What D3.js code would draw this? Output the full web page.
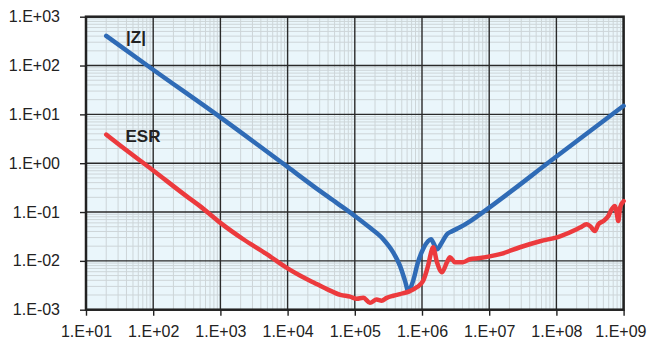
<!DOCTYPE html>
<html>
<head>
<meta charset="utf-8">
<script src="https://cdn.jsdelivr.net/npm/d3@7"></script>
<style>
  html, body { margin: 0; padding: 0; background: #ffffff; }
  svg { display: block; }
  text { font-family: "Liberation Sans", Arial, Helvetica, sans-serif; }
</style>
</head>
<body>
<svg id="chart" width="647" height="350"></svg>
<script>
// ---- Data ----
const xTickValues = [1e1, 1e2, 1e3, 1e4, 1e5, 1e6, 1e7, 1e8, 1e9];
const xTickLabels = ["1.E+01", "1.E+02", "1.E+03", "1.E+04", "1.E+05", "1.E+06", "1.E+07", "1.E+08", "1.E+09"];
const yTickValues = [1e3, 1e2, 1e1, 1e0, 1e-1, 1e-2, 1e-3];
const yTickLabels = ["1.E+03", "1.E+02", "1.E+01", "1.E+00", "1.E-01", "1.E-02", "1.E-03"];

// |Z| series: frequency (Hz), impedance (ohm)
const zFreq = [20, 100, 1000, 10000, 24400, 53700, 100000, 167000, 265000, 374000, 471000, 559000,
  625000, 735000, 872000, 1035000, 1228000, 1361000, 1510000, 1672000, 1985000, 2356000, 2795000,
  3675000, 5176000, 7295000, 1e8, 1e9];
const zVal = [404, 82, 8.7, 0.84, 0.336, 0.154, 0.083, 0.048, 0.0278, 0.0148, 0.0079, 0.0039,
  0.0024, 0.00385, 0.0094, 0.0173, 0.0252, 0.0277, 0.0219, 0.0173, 0.0241, 0.0351, 0.0404,
  0.0488, 0.0646, 0.0897, 1.37, 15];

// ESR series: frequency (Hz), ESR (ohm)
const esrFreq = [20, 31.6, 100, 316, 497, 1000, 2190, 4890, 10000, 15500, 24400, 38500, 61100,
  85000, 107000, 134000, 168000, 211000, 251000, 299000, 374000, 471000, 662000, 843000, 1035000,
  1227000, 1409000, 1459000, 1671000, 1986000, 2355000, 2612000, 3097000, 4074000, 5176000,
  7295000, 14490000, 28710000, 57020000, 113200000, 200500000, 224400000, 281800000, 316200000,
  375000000, 420700000, 500000000, 593000000, 665000000, 745000000, 788000000, 835000000,
  885000000, 1e9];
const esrVal = [3.86, 2.35, 0.71, 0.209, 0.132, 0.060, 0.0277, 0.0137, 0.0070, 0.00494, 0.00361,
  0.00264, 0.00202, 0.00185, 0.00168, 0.00176, 0.00138, 0.00162, 0.00153, 0.00175, 0.00193,
  0.00209, 0.0024, 0.0029, 0.00385, 0.0078, 0.0173, 0.019, 0.0094, 0.00587, 0.0094, 0.0119,
  0.0094, 0.0094, 0.0108, 0.0114, 0.0137, 0.019, 0.0252, 0.0319, 0.0444, 0.048, 0.056, 0.0518,
  0.041, 0.056, 0.0655, 0.0828, 0.1135, 0.1325, 0.097, 0.0655, 0.123, 0.1675];

// ---- Layout ----
const W = 647, H = 350;
const margin = { left: 86, right: 23.4, top: 16.7, bottom: 40.3 };
const pw = W - margin.left - margin.right;
const ph = H - margin.top - margin.bottom;

const svg = d3.select("#chart");
const g = svg.append("g").attr("transform", `translate(${margin.left},${margin.top})`);

const x = d3.scaleLog().domain([1e1, 1e9]).range([0, pw]);
const y = d3.scaleLog().domain([1e-3, 1e3]).range([ph, 0]);

// background
g.append("rect").attr("x", 0).attr("y", 0).attr("width", pw).attr("height", ph).attr("fill", "#eaf6fb");

// minor grid
const minorX = [], minorY = [];
for (let e = 1; e < 9; e++) for (let m = 2; m <= 9; m++) minorX.push(m * Math.pow(10, e));
for (let e = -3; e < 3; e++) for (let m = 2; m <= 9; m++) minorY.push(m * Math.pow(10, e));

g.append("g").selectAll("line").data(minorX).join("line")
  .attr("x1", d => x(d)).attr("x2", d => x(d)).attr("y1", 0).attr("y2", ph)
  .attr("stroke", "#cdd5d8").attr("stroke-width", 1);
g.append("g").selectAll("line").data(minorY).join("line")
  .attr("y1", d => y(d)).attr("y2", d => y(d)).attr("x1", 0).attr("x2", pw)
  .attr("stroke", "#cdd5d8").attr("stroke-width", 1);

// major grid
g.append("g").selectAll("line").data(xTickValues).join("line")
  .attr("x1", d => x(d)).attr("x2", d => x(d)).attr("y1", 0).attr("y2", ph)
  .attr("stroke", "#2a2a2a").attr("stroke-width", 1.4);
g.append("g").selectAll("line").data(yTickValues).join("line")
  .attr("y1", d => y(d)).attr("y2", d => y(d)).attr("x1", 0).attr("x2", pw)
  .attr("stroke", "#2a2a2a").attr("stroke-width", 1.4);

// axes
const xAxis = d3.axisBottom(x).tickValues(xTickValues)
  .tickFormat((d, i) => xTickLabels[i]).tickSizeInner(6).tickSizeOuter(0).tickPadding(10);
const yAxis = d3.axisLeft(y).tickValues(yTickValues)
  .tickFormat((d, i) => yTickLabels[i]).tickSizeInner(6).tickSizeOuter(0).tickPadding(20);

const gx = g.append("g").attr("transform", `translate(0,${ph})`).call(xAxis);
const gy = g.append("g").call(yAxis);
[gx, gy].forEach(a => {
  a.select(".domain").remove();
  a.selectAll(".tick line").attr("stroke", "#222").attr("stroke-width", 1.4);
  a.selectAll(".tick text").attr("fill", "#222").style("font-size", "16px")
    .style("font-family", '"Liberation Sans", Arial, sans-serif');
});
// keep the last x label inside the picture (as in the reference)
gx.selectAll(".tick text").filter((d, i) => i === xTickValues.length - 1)
  .attr("text-anchor", "end").attr("dx", W - margin.left - pw - 1);

// border
g.append("rect").attr("x", 0).attr("y", 0).attr("width", pw).attr("height", ph)
  .attr("fill", "none").attr("stroke", "#222").attr("stroke-width", 2.5);

// lines
const line = d3.line().x(d => x(d[0])).y(d => y(d[1])).curve(d3.curveMonotoneX);
const zData = zFreq.map((f, i) => [f, zVal[i]]);
const esrData = esrFreq.map((f, i) => [f, esrVal[i]]);

g.append("path").datum(zData).attr("d", line)
  .attr("fill", "none").attr("stroke", "#2f6bb6").attr("stroke-width", 4.5)
  .attr("stroke-linejoin", "round").attr("stroke-linecap", "round");
g.append("path").datum(esrData).attr("d", line)
  .attr("fill", "none").attr("stroke", "#ec3a3d").attr("stroke-width", 4.5)
  .attr("stroke-linejoin", "round").attr("stroke-linecap", "round");

// series labels
svg.append("text").attr("x", 126).attr("y", 42.5).text("|Z|")
  .style("font-size", "17px").style("font-weight", "bold").attr("fill", "#222");
svg.append("text").attr("x", 125.5).attr("y", 141.5).text("ESR")
  .style("font-size", "17px").style("font-weight", "bold").attr("fill", "#222");
</script>
</body>
</html>
